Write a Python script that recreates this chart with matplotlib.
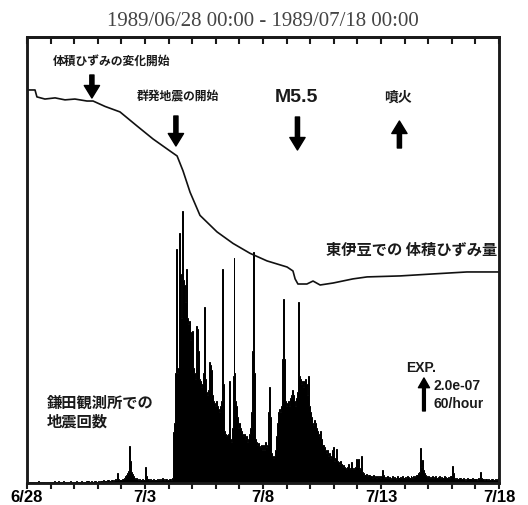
import numpy as np
import matplotlib
matplotlib.use("Agg")
import matplotlib.pyplot as plt

plt.rcParams['font.family'] = ['Noto Sans CJK JP', 'DejaVu Sans']

title_text = "1989/06/28 00:00 - 1989/07/18 00:00"
tick_days = list(range(21))
tick_labels = ["6/28", "", "", "", "", "7/3", "", "", "", "", "7/8",
               "", "", "", "", "7/13", "", "", "", "", "7/18"]

# hourly earthquake counts at Kamata station (per hour), one row per day
counts_0628 = [1,0,1,2,1,1,2,1,0,1,2,3,2,1,1,2,1,1,0,1,2,1,1,2]
counts_0629 = [2,1,1,3,2,2,1,2,3,2,1,2,2,3,2,1,2,2,1,2,3,2,1,2]
counts_0630 = [2,2,3,2,1,2,2,3,2,2,1,2,3,4,3,2,2,3,2,2,3,3,2,2]
counts_0701 = [3,2,3,4,3,5,4,3,4,6,5,4,3,5,6,4,5,7,6,5,18,8,6,5]
counts_0702 = [6,8,7,10,12,15,18,22,68,40,20,16,12,10,8,9,7,6,8,6,5,7,6,5]
counts_0703 = [30,12,8,7,6,8,6,5,7,6,5,6,7,5,8,6,7,9,8,6,7,8,6,5]
counts_0704 = [7,8,6,9,93,110,190,200,425,200,210,455,380,300,495,370,360,330,390,300,290,295,260,275]
counts_0705 = [277,210,200,190,285,280,240,190,185,175,180,200,320,190,165,160,170,220,215,205,160,150,145,140]
counts_0706 = [150,140,135,130,140,150,390,180,95,90,85,88,90,185,80,75,100,195,410,200,150,140,120,100]
counts_0707 = [110,100,95,90,85,90,80,85,75,80,90,100,130,240,420,200,80,75,70,72,68,65,70,60]
counts_0708 = [70,60,75,65,70,130,175,120,55,50,45,50,60,85,110,130,135,130,140,225,335,225,150,140]
counts_0709 = [145,150,140,155,160,170,150,160,150,140,155,165,330,195,190,180,185,175,185,190,180,160,195,140]
counts_0710 = [130,120,110,105,115,110,100,95,90,85,95,80,70,70,65,60,55,60,50,55,45,50,60,65]
counts_0711 = [40,45,62,40,38,35,40,35,30,32,30,28,25,30,35,28,25,38,30,25,28,25,30,44]
counts_0712 = [30,44,25,28,49,20,18,15,14,16,12,15,14,13,12,10,14,11,12,10,13,11,12,10]
counts_0713 = [12,24,14,10,11,9,12,10,11,8,10,12,9,11,10,8,12,10,9,11,10,12,9,10]
counts_0714 = [11,10,12,11,9,10,12,11,10,12,11,13,15,14,18,20,64,30,42,24,18,15,12,11]
counts_0715 = [12,10,11,9,12,10,11,13,10,9,11,12,10,11,9,10,12,11,10,9,11,10,12,13]
counts_0716 = [31,18,10,8,9,7,8,10,9,8,7,9,8,6,7,9,8,7,6,8,7,9,8,7]
counts_0717 = [7,8,6,9,8,20,10,7,8,6,7,8,6,7,5,6,7,8,6,5,7,6,8,9]

hourly_counts = (counts_0628 + counts_0629 + counts_0630 + counts_0701 + counts_0702
                 + counts_0703 + counts_0704 + counts_0705 + counts_0706 + counts_0707
                 + counts_0708 + counts_0709 + counts_0710 + counts_0711 + counts_0712
                 + counts_0713 + counts_0714 + counts_0715 + counts_0716 + counts_0717)

# volumetric strain at East Izu (units of 1e-7, relative to start), days since 6/28 00:00
strain_days = [0.0, 0.34, 0.42, 0.76, 1.19, 1.61, 2.03, 2.54, 2.80, 3.31, 3.94, 4.66,
               5.34, 6.06, 6.36, 6.61, 6.91, 7.33, 8.05, 8.73, 9.45, 10.17, 11.02,
               11.27, 11.36, 11.48, 11.86, 12.12, 12.42, 12.97, 13.81, 14.41, 15.81,
               17.20, 18.64, 20.0]
strain_1e7 = [0.0, 0.0, -0.42, -0.55, -0.48, -0.60, -0.55, -0.67, -0.67, -1.0, -1.33,
              -2.18, -2.97, -3.70, -4.0, -4.9, -6.2, -7.6, -8.6, -9.3, -9.9, -10.36,
              -10.73, -10.97, -11.45, -11.76, -11.76, -11.58, -11.82, -11.70, -11.45,
              -11.33, -11.27, -11.15, -11.03, -11.03]

event_days = [2.75, 6.31, 11.46, 15.78]
event_labels = ["体積ひずみの変化開始", "群発地震の開始", "M5.5", "噴火"]

scale_count = 60      # counts/hour represented by the scale arrow
scale_strain = "2.0e-07"

fig = plt.figure(figsize=(5.28, 5.06), dpi=100)
ax = fig.add_axes([27/528, 22/506, 472/528, 446/506])
ax2 = ax.twinx()

edges = np.arange(len(hourly_counts) + 1) / 24.0
ax.stairs(hourly_counts, edges, fill=True, facecolor='black', edgecolor='black',
          linewidth=0.7)
ax.set_xlim(0, 20)
ax.set_ylim(0, 811)

ax2.plot(strain_days, strain_1e7, color='#111111', lw=1.2)
ax2.set_ylim(3.21 - 27.03, 3.21)

for a in (ax, ax2):
    a.set_yticks([])
    for s in a.spines.values():
        s.set_linewidth(1.8)
        s.set_color('#1a1a1a')

ax.set_xticks(tick_days)
ax.set_xticklabels(tick_labels, fontfamily='Liberation Sans', fontweight='bold', fontsize=12)
ax.tick_params(axis='x', direction='out', length=4, width=1.5, pad=0.5, color='#1a1a1a')
secx = ax.secondary_xaxis('top')
secx.set_xticks(tick_days)
secx.set_xticklabels([])
secx.tick_params(axis='x', direction='in', length=5, width=1.5, color='#1a1a1a')
secx.spines['top'].set_linewidth(1.8)

fig.text(0.498, 1 - 22/506, title_text, ha='center', va='center',
         family='Liberation Serif', fontsize=15, color='#444444')

def fy(ypix):
    return (484 - ypix) / 446.0

arrow_kw = dict(facecolor='black', edgecolor='black', width=3, headwidth=11,
                headlength=9, shrink=0)
# down arrows
for d, tail, tip in [(event_days[0], 76, 99), (event_days[1], 117, 147),
                     (event_days[2], 118, 151)]:
    ax.annotate('', xy=(d, fy(tip)), xytext=(d, fy(tail)),
                xycoords=('data', 'axes fraction'), textcoords=('data', 'axes fraction'),
                arrowprops=arrow_kw)
# up arrow (eruption)
ax.annotate('', xy=(event_days[3], fy(122)), xytext=(event_days[3], fy(149)),
            xycoords=('data', 'axes fraction'), textcoords=('data', 'axes fraction'),
            arrowprops=arrow_kw)

bold = dict(fontweight='bold', color='#1a1a1a')
ax.text(85/472, fy(61), event_labels[0], ha='center', va='center', fontsize=8.5,
        transform=ax.transAxes, **bold)
ax.text(151/472, fy(97), event_labels[1], ha='center', va='center', fontsize=8.5,
        transform=ax.transAxes, **bold)
ax.text(269/472, fy(98), event_labels[2], ha='center', va='center', fontsize=14,
        family='Liberation Sans', transform=ax.transAxes, **bold)
ax.text(371/472, fy(98), event_labels[3], ha='center', va='center', fontsize=10,
        transform=ax.transAxes, **bold)

ax.text(470/472, fy(250), "東伊豆での 体積ひずみ量", ha='right', va='center', fontsize=11,
        transform=ax.transAxes, **bold)
ax.text(20/472, fy(403), "鎌田観測所での", ha='left', va='center', fontsize=11,
        transform=ax.transAxes, **bold)
ax.text(20/472, fy(422), "地震回数", ha='left', va='center', fontsize=11,
        transform=ax.transAxes, **bold)

# scale arrow
scale_day = 16.82
scale_base = 131
ax.annotate('', xy=(scale_day, scale_base + scale_count), xytext=(scale_day, scale_base),
            arrowprops=dict(facecolor='black', edgecolor='black', width=2, headwidth=8,
                            headlength=7, shrink=0))
ax.text(379/472, fy(368), "EXP.", ha='left', va='center', fontsize=10,
        family='Liberation Sans', transform=ax.transAxes, **bold)
ax.text(406/472, fy(386), scale_strain, ha='left', va='center', fontsize=10,
        family='Liberation Sans', transform=ax.transAxes, **bold)
ax.text(406/472, fy(404), f"{scale_count}/hour", ha='left', va='center', fontsize=10,
        family='Liberation Sans', transform=ax.transAxes, **bold)

fig.savefig("out.png", dpi=100)
